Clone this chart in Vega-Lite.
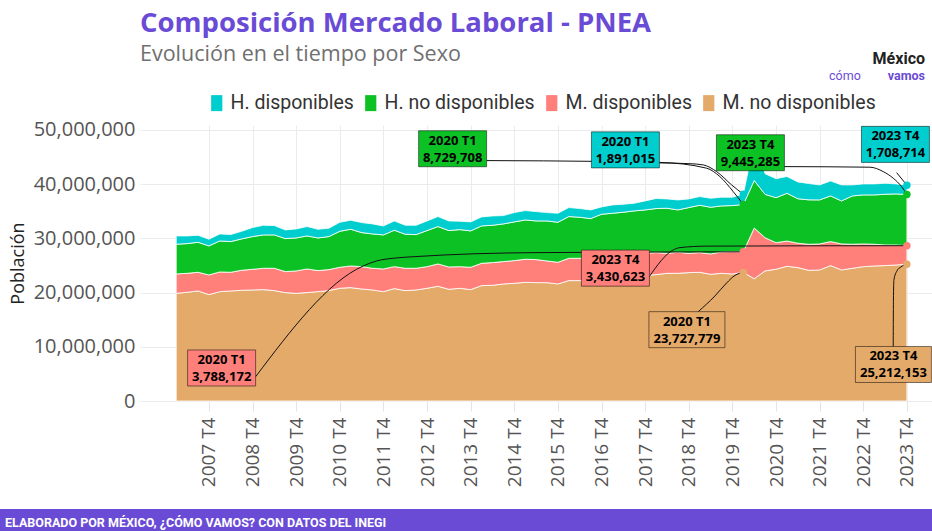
{
"$schema":"https://vega.github.io/schema/vega-lite/v6.json",
"width":792,"height":276,
"autosize":{"type":"none"},
"padding":{"left":140,"top":125,"right":0,"bottom":130},
"background":"white",
"config":{"view":{"stroke":null},"font":"Open Sans"},
"title":{"text":"Composición Mercado Laboral - PNEA","subtitle":"Evolución en el tiempo por Sexo","anchor":"start","frame":"group","font":"Open Sans","fontSize":27.5,"fontWeight":"bold","color":"#6A4BD6","subtitleFont":"Open Sans","subtitleFontSize":21.5,"subtitleColor":"#6F6F6F","subtitlePadding":6,"offset":-14},
"datasets":{
"pnea":[
{"t":2007,"serie":"M. no disponibles","v":19860000},{"t":2007,"serie":"M. disponibles","v":3570000},{"t":2007,"serie":"H. no disponibles","v":5480000},{"t":2007,"serie":"H. disponibles","v":1530000},
{"t":2007.25,"serie":"M. no disponibles","v":20050000},{"t":2007.25,"serie":"M. disponibles","v":3500000},{"t":2007.25,"serie":"H. no disponibles","v":5480000},{"t":2007.25,"serie":"H. disponibles","v":1410000},
{"t":2007.5,"serie":"M. no disponibles","v":20300000},{"t":2007.5,"serie":"M. disponibles","v":3440000},{"t":2007.5,"serie":"H. no disponibles","v":5530000},{"t":2007.5,"serie":"H. disponibles","v":1300000},
{"t":2007.75,"serie":"M. no disponibles","v":19620000},{"t":2007.75,"serie":"M. disponibles","v":3630000},{"t":2007.75,"serie":"H. no disponibles","v":5350000},{"t":2007.75,"serie":"H. disponibles","v":1230000},
{"t":2008,"serie":"M. no disponibles","v":20170000},{"t":2008,"serie":"M. disponibles","v":3630000},{"t":2008,"serie":"H. no disponibles","v":5720000},{"t":2008,"serie":"H. disponibles","v":1290000},
{"t":2008.25,"serie":"M. no disponibles","v":20300000},{"t":2008.25,"serie":"M. disponibles","v":3440000},{"t":2008.25,"serie":"H. no disponibles","v":5660000},{"t":2008.25,"serie":"H. disponibles","v":1290000},
{"t":2008.5,"serie":"M. no disponibles","v":20420000},{"t":2008.5,"serie":"M. disponibles","v":3690000},{"t":2008.5,"serie":"H. no disponibles","v":5780000},{"t":2008.5,"serie":"H. disponibles","v":1410000},
{"t":2008.75,"serie":"M. no disponibles","v":20480000},{"t":2008.75,"serie":"M. disponibles","v":3810000},{"t":2008.75,"serie":"H. no disponibles","v":6030000},{"t":2008.75,"serie":"H. disponibles","v":1660000},
{"t":2009,"serie":"M. no disponibles","v":20540000},{"t":2009,"serie":"M. disponibles","v":3940000},{"t":2009,"serie":"H. no disponibles","v":6150000},{"t":2009,"serie":"H. disponibles","v":1780000},
{"t":2009.25,"serie":"M. no disponibles","v":20360000},{"t":2009.25,"serie":"M. disponibles","v":4120000},{"t":2009.25,"serie":"H. no disponibles","v":6150000},{"t":2009.25,"serie":"H. disponibles","v":1720000},
{"t":2009.5,"serie":"M. no disponibles","v":19990000},{"t":2009.5,"serie":"M. disponibles","v":3870000},{"t":2009.5,"serie":"H. no disponibles","v":6090000},{"t":2009.5,"serie":"H. disponibles","v":1600000},
{"t":2009.75,"serie":"M. no disponibles","v":19860000},{"t":2009.75,"serie":"M. disponibles","v":4130000},{"t":2009.75,"serie":"H. no disponibles","v":6080000},{"t":2009.75,"serie":"H. disponibles","v":1660000},
{"t":2010,"serie":"M. no disponibles","v":19990000},{"t":2010,"serie":"M. disponibles","v":4360000},{"t":2010,"serie":"H. no disponibles","v":6090000},{"t":2010,"serie":"H. disponibles","v":1730000},
{"t":2010.25,"serie":"M. no disponibles","v":20170000},{"t":2010.25,"serie":"M. disponibles","v":3880000},{"t":2010.25,"serie":"H. no disponibles","v":6020000},{"t":2010.25,"serie":"H. disponibles","v":1600000},
{"t":2010.5,"serie":"M. no disponibles","v":20360000},{"t":2010.5,"serie":"M. disponibles","v":3870000},{"t":2010.5,"serie":"H. no disponibles","v":6090000},{"t":2010.5,"serie":"H. disponibles","v":1540000},
{"t":2010.75,"serie":"M. no disponibles","v":20790000},{"t":2010.75,"serie":"M. disponibles","v":3870000},{"t":2010.75,"serie":"H. no disponibles","v":6640000},{"t":2010.75,"serie":"H. disponibles","v":1660000},
{"t":2011,"serie":"M. no disponibles","v":20910000},{"t":2011,"serie":"M. disponibles","v":4000000},{"t":2011,"serie":"H. no disponibles","v":6760000},{"t":2011,"serie":"H. disponibles","v":1660000},
{"t":2011.25,"serie":"M. no disponibles","v":20660000},{"t":2011.25,"serie":"M. disponibles","v":4120000},{"t":2011.25,"serie":"H. no disponibles","v":6280000},{"t":2011.25,"serie":"H. disponibles","v":1840000},
{"t":2011.5,"serie":"M. no disponibles","v":20480000},{"t":2011.5,"serie":"M. disponibles","v":4000000},{"t":2011.5,"serie":"H. no disponibles","v":6330000},{"t":2011.5,"serie":"H. disponibles","v":1850000},
{"t":2011.75,"serie":"M. no disponibles","v":20170000},{"t":2011.75,"serie":"M. disponibles","v":4180000},{"t":2011.75,"serie":"H. no disponibles","v":6280000},{"t":2011.75,"serie":"H. disponibles","v":1660000},
{"t":2012,"serie":"M. no disponibles","v":20730000},{"t":2012,"serie":"M. disponibles","v":4050000},{"t":2012,"serie":"H. no disponibles","v":6710000},{"t":2012,"serie":"H. disponibles","v":1720000},
{"t":2012.25,"serie":"M. no disponibles","v":20360000},{"t":2012.25,"serie":"M. disponibles","v":4120000},{"t":2012.25,"serie":"H. no disponibles","v":6270000},{"t":2012.25,"serie":"H. disponibles","v":1660000},
{"t":2012.5,"serie":"M. no disponibles","v":20480000},{"t":2012.5,"serie":"M. disponibles","v":4000000},{"t":2012.5,"serie":"H. no disponibles","v":6210000},{"t":2012.5,"serie":"H. disponibles","v":1720000},
{"t":2012.75,"serie":"M. no disponibles","v":20790000},{"t":2012.75,"serie":"M. disponibles","v":3990000},{"t":2012.75,"serie":"H. no disponibles","v":6650000},{"t":2012.75,"serie":"H. disponibles","v":1780000},
{"t":2013,"serie":"M. no disponibles","v":21160000},{"t":2013,"serie":"M. disponibles","v":4120000},{"t":2013,"serie":"H. no disponibles","v":6890000},{"t":2013,"serie":"H. disponibles","v":1840000},
{"t":2013.25,"serie":"M. no disponibles","v":20600000},{"t":2013.25,"serie":"M. disponibles","v":4120000},{"t":2013.25,"serie":"H. no disponibles","v":6710000},{"t":2013.25,"serie":"H. disponibles","v":1780000},
{"t":2013.5,"serie":"M. no disponibles","v":20790000},{"t":2013.5,"serie":"M. disponibles","v":3990000},{"t":2013.5,"serie":"H. no disponibles","v":6830000},{"t":2013.5,"serie":"H. disponibles","v":1540000},
{"t":2013.75,"serie":"M. no disponibles","v":20540000},{"t":2013.75,"serie":"M. disponibles","v":4120000},{"t":2013.75,"serie":"H. no disponibles","v":6710000},{"t":2013.75,"serie":"H. disponibles","v":1660000},
{"t":2014,"serie":"M. no disponibles","v":21280000},{"t":2014,"serie":"M. disponibles","v":4120000},{"t":2014,"serie":"H. no disponibles","v":6890000},{"t":2014,"serie":"H. disponibles","v":1660000},
{"t":2014.25,"serie":"M. no disponibles","v":21340000},{"t":2014.25,"serie":"M. disponibles","v":4180000},{"t":2014.25,"serie":"H. no disponibles","v":6890000},{"t":2014.25,"serie":"H. disponibles","v":1720000},
{"t":2014.5,"serie":"M. no disponibles","v":21590000},{"t":2014.5,"serie":"M. disponibles","v":4120000},{"t":2014.5,"serie":"H. no disponibles","v":6950000},{"t":2014.5,"serie":"H. disponibles","v":1530000},
{"t":2014.75,"serie":"M. no disponibles","v":21710000},{"t":2014.75,"serie":"M. disponibles","v":4180000},{"t":2014.75,"serie":"H. no disponibles","v":7140000},{"t":2014.75,"serie":"H. disponibles","v":1720000},
{"t":2015,"serie":"M. no disponibles","v":21890000},{"t":2015,"serie":"M. disponibles","v":4250000},{"t":2015,"serie":"H. no disponibles","v":7250000},{"t":2015,"serie":"H. disponibles","v":1730000},
{"t":2015.25,"serie":"M. no disponibles","v":21830000},{"t":2015.25,"serie":"M. disponibles","v":4250000},{"t":2015.25,"serie":"H. no disponibles","v":7130000},{"t":2015.25,"serie":"H. disponibles","v":1720000},
{"t":2015.5,"serie":"M. no disponibles","v":21830000},{"t":2015.5,"serie":"M. disponibles","v":4000000},{"t":2015.5,"serie":"H. no disponibles","v":7380000},{"t":2015.5,"serie":"H. disponibles","v":1540000},
{"t":2015.75,"serie":"M. no disponibles","v":21590000},{"t":2015.75,"serie":"M. disponibles","v":3990000},{"t":2015.75,"serie":"H. no disponibles","v":7380000},{"t":2015.75,"serie":"H. disponibles","v":1660000},
{"t":2016,"serie":"M. no disponibles","v":22200000},{"t":2016,"serie":"M. disponibles","v":4120000},{"t":2016,"serie":"H. no disponibles","v":7690000},{"t":2016,"serie":"H. disponibles","v":1660000},
{"t":2016.25,"serie":"M. no disponibles","v":22200000},{"t":2016.25,"serie":"M. disponibles","v":4120000},{"t":2016.25,"serie":"H. no disponibles","v":7570000},{"t":2016.25,"serie":"H. disponibles","v":1600000},
{"t":2016.5,"serie":"M. no disponibles","v":22080000},{"t":2016.5,"serie":"M. disponibles","v":4180000},{"t":2016.5,"serie":"H. no disponibles","v":7380000},{"t":2016.5,"serie":"H. disponibles","v":1600000},
{"t":2016.75,"serie":"M. no disponibles","v":22320000},{"t":2016.75,"serie":"M. disponibles","v":4130000},{"t":2016.75,"serie":"H. no disponibles","v":7990000},{"t":2016.75,"serie":"H. disponibles","v":1350000},
{"t":2017,"serie":"M. no disponibles","v":22450000},{"t":2017,"serie":"M. disponibles","v":4180000},{"t":2017,"serie":"H. no disponibles","v":7990000},{"t":2017,"serie":"H. disponibles","v":1540000},
{"t":2017.25,"serie":"M. no disponibles","v":22700000},{"t":2017.25,"serie":"M. disponibles","v":4050000},{"t":2017.25,"serie":"H. no disponibles","v":8060000},{"t":2017.25,"serie":"H. disponibles","v":1480000},
{"t":2017.5,"serie":"M. no disponibles","v":22900000},{"t":2017.5,"serie":"M. disponibles","v":4040000},{"t":2017.5,"serie":"H. no disponibles","v":8120000},{"t":2017.5,"serie":"H. disponibles","v":1410000},
{"t":2017.75,"serie":"M. no disponibles","v":23150000},{"t":2017.75,"serie":"M. disponibles","v":4090000},{"t":2017.75,"serie":"H. no disponibles","v":8000000},{"t":2017.75,"serie":"H. disponibles","v":1660000},
{"t":2018,"serie":"M. no disponibles","v":23310000},{"t":2018,"serie":"M. disponibles","v":4060000},{"t":2018,"serie":"H. no disponibles","v":8120000},{"t":2018,"serie":"H. disponibles","v":1850000},
{"t":2018.25,"serie":"M. no disponibles","v":23550000},{"t":2018.25,"serie":"M. disponibles","v":3690000},{"t":2018.25,"serie":"H. no disponibles","v":8310000},{"t":2018.25,"serie":"H. disponibles","v":1720000},
{"t":2018.5,"serie":"M. no disponibles","v":23550000},{"t":2018.5,"serie":"M. disponibles","v":3880000},{"t":2018.5,"serie":"H. no disponibles","v":7810000},{"t":2018.5,"serie":"H. disponibles","v":1840000},
{"t":2018.75,"serie":"M. no disponibles","v":23680000},{"t":2018.75,"serie":"M. disponibles","v":3560000},{"t":2018.75,"serie":"H. no disponibles","v":8430000},{"t":2018.75,"serie":"H. disponibles","v":1600000},
{"t":2019,"serie":"M. no disponibles","v":23740000},{"t":2019,"serie":"M. disponibles","v":3630000},{"t":2019,"serie":"H. no disponibles","v":8730000},{"t":2019,"serie":"H. disponibles","v":1600000},
{"t":2019.25,"serie":"M. no disponibles","v":23370000},{"t":2019.25,"serie":"M. disponibles","v":3750000},{"t":2019.25,"serie":"H. no disponibles","v":8610000},{"t":2019.25,"serie":"H. disponibles","v":1660000},
{"t":2019.5,"serie":"M. no disponibles","v":23550000},{"t":2019.5,"serie":"M. disponibles","v":3940000},{"t":2019.5,"serie":"H. no disponibles","v":8490000},{"t":2019.5,"serie":"H. disponibles","v":1600000},
{"t":2019.75,"serie":"M. no disponibles","v":23430000},{"t":2019.75,"serie":"M. disponibles","v":4120000},{"t":2019.75,"serie":"H. no disponibles","v":8490000},{"t":2019.75,"serie":"H. disponibles","v":1540000},
{"t":2020,"serie":"M. no disponibles","v":23727779},{"t":2020,"serie":"M. disponibles","v":3788172},{"t":2020,"serie":"H. no disponibles","v":8729708},{"t":2020,"serie":"H. disponibles","v":1891015},
{"t":2020.25,"serie":"M. no disponibles","v":22550000},{"t":2020.25,"serie":"M. disponibles","v":9350000},{"t":2020.25,"serie":"H. no disponibles","v":8750000},{"t":2020.25,"serie":"H. disponibles","v":7150000},
{"t":2020.5,"serie":"M. no disponibles","v":24000000},{"t":2020.5,"serie":"M. disponibles","v":6100000},{"t":2020.5,"serie":"H. no disponibles","v":8000000},{"t":2020.5,"serie":"H. disponibles","v":3800000},
{"t":2020.75,"serie":"M. no disponibles","v":24300000},{"t":2020.75,"serie":"M. disponibles","v":4900000},{"t":2020.75,"serie":"H. no disponibles","v":8300000},{"t":2020.75,"serie":"H. disponibles","v":3500000},
{"t":2021,"serie":"M. no disponibles","v":24850000},{"t":2021,"serie":"M. disponibles","v":4650000},{"t":2021,"serie":"H. no disponibles","v":8800000},{"t":2021,"serie":"H. disponibles","v":3100000},
{"t":2021.25,"serie":"M. no disponibles","v":24600000},{"t":2021.25,"serie":"M. disponibles","v":4500000},{"t":2021.25,"serie":"H. no disponibles","v":8200000},{"t":2021.25,"serie":"H. disponibles","v":3100000},
{"t":2021.5,"serie":"M. no disponibles","v":24100000},{"t":2021.5,"serie":"M. disponibles","v":4800000},{"t":2021.5,"serie":"H. no disponibles","v":8200000},{"t":2021.5,"serie":"H. disponibles","v":3000000},
{"t":2021.75,"serie":"M. no disponibles","v":24170000},{"t":2021.75,"serie":"M. disponibles","v":4800000},{"t":2021.75,"serie":"H. no disponibles","v":8120000},{"t":2021.75,"serie":"H. disponibles","v":2760000},
{"t":2022,"serie":"M. no disponibles","v":24970000},{"t":2022,"serie":"M. disponibles","v":4430000},{"t":2022,"serie":"H. no disponibles","v":8420000},{"t":2022,"serie":"H. disponibles","v":2770000},
{"t":2022.25,"serie":"M. no disponibles","v":24170000},{"t":2022.25,"serie":"M. disponibles","v":4800000},{"t":2022.25,"serie":"H. no disponibles","v":7930000},{"t":2022.25,"serie":"H. disponibles","v":2950000},
{"t":2022.5,"serie":"M. no disponibles","v":24480000},{"t":2022.5,"serie":"M. disponibles","v":4430000},{"t":2022.5,"serie":"H. no disponibles","v":8910000},{"t":2022.5,"serie":"H. disponibles","v":2030000},
{"t":2022.75,"serie":"M. no disponibles","v":24780000},{"t":2022.75,"serie":"M. disponibles","v":4190000},{"t":2022.75,"serie":"H. no disponibles","v":9040000},{"t":2022.75,"serie":"H. disponibles","v":2030000},
{"t":2023,"serie":"M. no disponibles","v":24910000},{"t":2023,"serie":"M. disponibles","v":4000000},{"t":2023,"serie":"H. no disponibles","v":9100000},{"t":2023,"serie":"H. disponibles","v":2030000},
{"t":2023.25,"serie":"M. no disponibles","v":24970000},{"t":2023.25,"serie":"M. disponibles","v":3810000},{"t":2023.25,"serie":"H. no disponibles","v":9350000},{"t":2023.25,"serie":"H. disponibles","v":2030000},
{"t":2023.5,"serie":"M. no disponibles","v":25090000},{"t":2023.5,"serie":"M. disponibles","v":3690000},{"t":2023.5,"serie":"H. no disponibles","v":9410000},{"t":2023.5,"serie":"H. disponibles","v":1850000},
{"t":2023.75,"serie":"M. no disponibles","v":25212153},{"t":2023.75,"serie":"M. disponibles","v":3430623},{"t":2023.75,"serie":"H. no disponibles","v":9445285},{"t":2023.75,"serie":"H. disponibles","v":1708714}
],
"ann":[
{"serie":"M. disponibles","l1":"2020 T1","l2":"3,788,172","t":2008.041,"v":6089000},
{"serie":"H. no disponibles","l1":"2020 T1","l2":"8,729,708","t":2013.336,"v":46522000},
{"serie":"H. disponibles","l1":"2020 T1","l2":"1,891,015","t":2017.297,"v":46310000},
{"serie":"H. no disponibles","l1":"2023 T4","l2":"9,445,285","t":2020.163,"v":45784000},
{"serie":"H. disponibles","l1":"2023 T4","l2":"1,708,714","t":2023.487,"v":47325000},
{"serie":"M. disponibles","l1":"2023 T4","l2":"3,430,623","t":2017.068,"v":24502000},
{"serie":"M. no disponibles","l1":"2020 T1","l2":"23,727,779","t":2018.707,"v":13155000},
{"serie":"M. no disponibles","l1":"2023 T4","l2":"25,212,153","t":2023.441,"v":6734000}
],
"con":[
{"id":1,"t":2008.8205,"v":4483000},{"id":1,"t":2011.287,"v":24908000},{"id":1,"t":2011.594,"v":25830000},{"id":1,"t":2011.975,"v":26328000},{"id":1,"t":2012.472,"v":26624000},{"id":1,"t":2015.223,"v":27362000},{"id":1,"t":2020,"v":27515951},
{"id":2,"t":2014.116,"v":44336000},{"id":2,"t":2016.713,"v":44188000},{"id":2,"t":2018.088,"v":44004000},{"id":2,"t":2019.159,"v":42934000},{"id":2,"t":2019.463,"v":41384000},{"id":2,"t":2019.768,"v":38616000},{"id":2,"t":2020,"v":36245659},
{"id":3,"t":2018.072,"v":43911000},{"id":3,"t":2018.776,"v":43764000},{"id":3,"t":2019.081,"v":43542000},{"id":3,"t":2019.388,"v":42306000},{"id":3,"t":2019.732,"v":39852000},{"id":3,"t":2020,"v":38136674},
{"id":4,"t":2020.937,"v":43229000},{"id":4,"t":2022.902,"v":43118000},{"id":4,"t":2023.207,"v":42306000},{"id":4,"t":2023.436,"v":41089000},{"id":4,"t":2023.628,"v":39539000},{"id":4,"t":2023.75,"v":38088061},
{"id":5,"t":2023.514,"v":42122000},{"id":5,"t":2023.75,"v":39796775},
{"id":6,"t":2017.843,"v":22934000},{"id":6,"t":2018.393,"v":27860000},{"id":6,"t":2018.547,"v":28284000},{"id":6,"t":2019.159,"v":28561000},{"id":6,"t":2023.75,"v":28642776},
{"id":7,"t":2018.966,"v":16476000},{"id":7,"t":2019.349,"v":19373000},{"id":7,"t":2019.617,"v":21771000},{"id":7,"t":2019.807,"v":23155000},{"id":7,"t":2020,"v":23727779},
{"id":8,"t":2023.436,"v":10018000},{"id":8,"t":2023.441,"v":18635000},{"id":8,"t":2023.452,"v":22325000},{"id":8,"t":2023.521,"v":23985000},{"id":8,"t":2023.612,"v":24723000},{"id":8,"t":2023.75,"v":25212153}
]
},
"layer":[
{"data":{"name":"pnea"},
 "mark":{"type":"area","opacity":1,"stroke":"white","strokeWidth":0.8},
 "encoding":{
  "x":{"field":"t","type":"quantitative","scale":{"domain":[2006.17,2024.325],"nice":false,"zero":false},
   "axis":{"title":null,"values":[2007.75,2008.75,2009.75,2010.75,2011.75,2012.75,2013.75,2014.75,2015.75,2016.75,2017.75,2018.75,2019.75,2020.75,2021.75,2022.75,2023.75],"labelExpr":"floor(datum.value) + ' T4'","labelAngle":-90,"labelFont":"Open Sans","labelFontSize":19,"labelColor":"#555555","labelPadding":6,"tickSize":10,"tickColor":"#E3E3E3","domain":false,"grid":true,"gridColor":"#EBEBEB","labelOverlap":false,"labelFlush":false,"labelBound":false}},
  "y":{"field":"v","type":"quantitative","stack":"zero","scale":{"domain":[0,50900000],"nice":false},
   "axis":{"title":"Población","values":[0,10000000,20000000,30000000,40000000,50000000],"format":",.0f","labelFont":"Open Sans","labelFontSize":20,"labelColor":"#555555","labelPadding":5,"ticks":false,"domain":false,"grid":true,"gridColor":"#EBEBEB","titleFont":"Open Sans","titleFontSize":18,"titleColor":"#222222","titleFontWeight":"normal","titlePadding":6}},
  "color":{"field":"serie","type":"nominal","scale":{"domain":["H. disponibles","H. no disponibles","M. disponibles","M. no disponibles"],"range":["#00CDCD","#0CC124","#FF7F7B","#E4AA6A"]},
   "legend":{"orient":"none","legendX":67,"legendY":-32,"direction":"horizontal","title":null,"symbolType":"M-0.7,-1H0.7V1H-0.7Z","symbolSize":256,"symbolStrokeWidth":0,"symbolOpacity":1,"labelFont":"Roboto","labelFontSize":19.5,"labelColor":"#333333","labelOffset":4,"columnPadding":7,"labelLimit":300}},
  "order":{"field":"serie","sort":"descending"}
 }},
{"data":{"name":"con"},
 "mark":{"type":"line","interpolate":"monotone","color":"#111111","strokeWidth":1},
 "encoding":{"x":{"field":"t","type":"quantitative"},"y":{"field":"v","type":"quantitative"},"detail":{"field":"id","type":"nominal"}}},
{"data":{"name":"pnea"},
 "transform":[{"filter":"datum.t == 2020 || datum.t == 2023.75"}],
 "mark":{"type":"point","filled":true,"opacity":1,"size":55},
 "encoding":{"x":{"field":"t","type":"quantitative"},"y":{"field":"v","type":"quantitative","stack":"zero"},"color":{"field":"serie","type":"nominal"},"order":{"field":"serie","sort":"descending"}}},
{"data":{"name":"ann"},
 "transform":[{"filter":"datum.serie != 'M. no disponibles'"}],
 "mark":{"type":"point","filled":true,"opacity":1,"shape":"M-1,-0.53H1V0.53H-1Z","size":4624,"stroke":"#000000","strokeOpacity":0.5,"strokeWidth":1},
 "encoding":{"x":{"field":"t","type":"quantitative"},"y":{"field":"v","type":"quantitative"},"color":{"field":"serie","type":"nominal"}}},
{"data":{"name":"ann"},
 "transform":[{"filter":"datum.serie == 'M. no disponibles'"}],
 "mark":{"type":"point","filled":true,"opacity":1,"shape":"M-1,-0.4737H1V0.4737H-1Z","size":5776,"stroke":"#000000","strokeOpacity":0.5,"strokeWidth":1},
 "encoding":{"x":{"field":"t","type":"quantitative"},"y":{"field":"v","type":"quantitative"},"color":{"field":"serie","type":"nominal"}}},
{"data":{"name":"ann"},
 "mark":{"type":"text","font":"Open Sans","fontWeight":"bold","fontSize":13,"color":"#000000","dy":-8},
 "encoding":{"x":{"field":"t","type":"quantitative"},"y":{"field":"v","type":"quantitative"},"text":{"field":"l1"}}},
{"data":{"name":"ann"},
 "mark":{"type":"text","font":"Open Sans","fontWeight":"bold","fontSize":13,"color":"#000000","dy":9},
 "encoding":{"x":{"field":"t","type":"quantitative"},"y":{"field":"v","type":"quantitative"},"text":{"field":"l2"}}},
{"data":{"values":[{}]},
 "mark":{"type":"rect","color":"#6A4BD6"},
 "encoding":{"x":{"value":-140},"x2":{"value":792},"y":{"value":384},"y2":{"value":406}}},
{"data":{"values":[{}]},
 "mark":{"type":"text","text":"ELABORADO POR MÉXICO, ¿CÓMO VAMOS? CON DATOS DEL INEGI","align":"left","baseline":"alphabetic","font":"Roboto","fontWeight":"bold","fontSize":12.5,"color":"white"},
 "encoding":{"x":{"value":-135},"y":{"value":402}}},
{"data":{"values":[{}]},
 "mark":{"type":"text","text":"México","align":"right","baseline":"alphabetic","font":"Roboto","fontWeight":"bold","fontSize":16,"color":"#222222"},
 "encoding":{"x":{"value":785},"y":{"value":-61}}},
{"data":{"values":[{}]},
 "mark":{"type":"text","text":"cómo","align":"left","baseline":"alphabetic","font":"Roboto","fontWeight":"normal","fontSize":12.5,"color":"#6A4BD6"},
 "encoding":{"x":{"value":689},"y":{"value":-45}}},
{"data":{"values":[{}]},
 "mark":{"type":"text","text":"vamos","align":"right","baseline":"alphabetic","font":"Roboto","fontWeight":"bold","fontSize":12.5,"color":"#6A4BD6"},
 "encoding":{"x":{"value":785},"y":{"value":-45}}}
]
}
